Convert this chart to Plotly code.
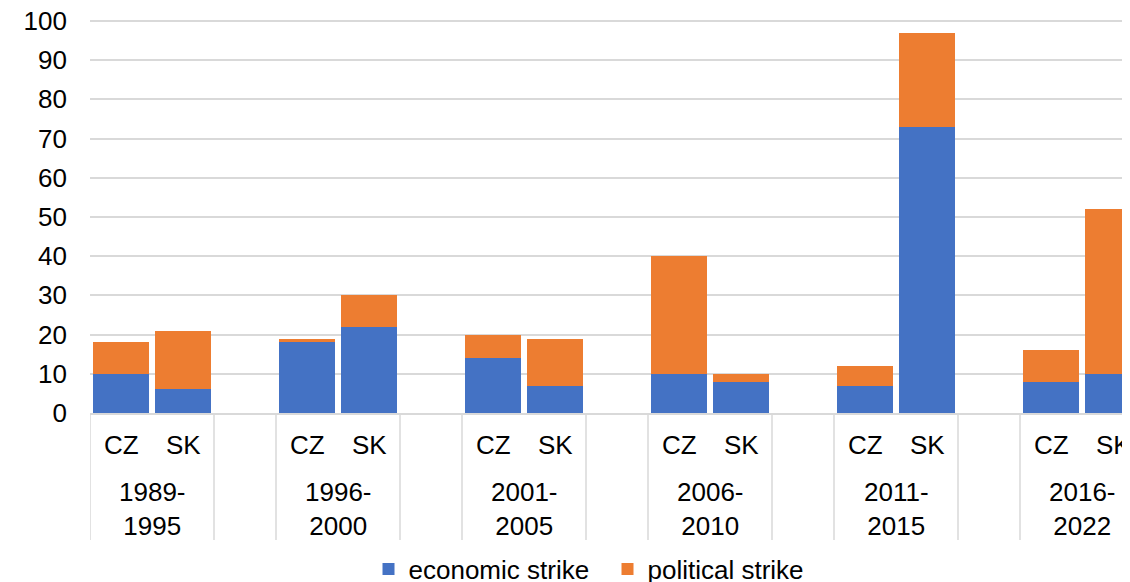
import plotly.graph_objects as go

periods = ["1989-1995", "1996-2000", "2001-2005", "2006-2010", "2011-2015", "2016-2022"]
countries = ["CZ", "SK"]
economic_cz = [10, 18, 14, 10, 7, 8]
political_cz = [8, 1, 6, 30, 5, 8]
economic_sk = [6, 22, 7, 8, 73, 10]
political_sk = [15, 8, 12, 2, 24, 42]

BLUE = "#4472C4"
ORANGE = "#ED7D31"
GRID = "#D9D9D9"
FONT = "Liberation Sans, Arial, sans-serif"
FS = 26

YMAX = 100.5
PX_PER_UNIT = 3.92
PLOT_H = YMAX * PX_PER_UNIT

# slot layout: each period uses 3 slots (CZ, SK, blank)
x_pos, econ, pol = [], [], []
for g in range(len(periods)):
    for c, (e, p) in enumerate([(economic_cz[g], political_cz[g]), (economic_sk[g], political_sk[g])]):
        x_pos.append(3 * g + c + 0.5)
        econ.append(e)
        pol.append(p)

fig = go.Figure()
fig.add_trace(go.Bar(x=x_pos, y=econ, name="economic strike", marker=dict(color=BLUE, line=dict(width=0)), width=0.9))
fig.add_trace(go.Bar(x=x_pos, y=pol, name="political strike", marker=dict(color=ORANGE, line=dict(width=0)), width=0.9))

annotations = []
shapes = []
for g, per in enumerate(periods):
    for c, name in enumerate(countries):
        annotations.append(dict(x=3 * g + c + 0.5, y=0, xref="x", yref="paper", text=name, showarrow=False,
                                yanchor="middle", yshift=-32, font=dict(family=FONT, size=FS, color="#000")))
    a, b = per.split("-")
    annotations.append(dict(x=3 * g + 1, y=0, xref="x", yref="paper", text=f"{a}-<br>{b}", showarrow=False,
                            yanchor="middle", yshift=-96, font=dict(family=FONT, size=FS, color="#000")))
for k in range(0, 17):
    if k % 3 == 1:
        continue
    shapes.append(dict(type="line", xref="x", yref="paper", x0=k, x1=k, y0=0, y1=-127 / PLOT_H,
                       line=dict(color=GRID, width=1.5), layer="below"))

H = 574
B = 169
fig.update_layout(
    barmode="stack",
    width=1122, height=H,
    margin=dict(l=82, r=0, t=H - B - PLOT_H, b=B, autoexpand=False),
    plot_bgcolor="white", paper_bgcolor="white",
    font=dict(family=FONT, size=FS, color="#000"),
    xaxis=dict(range=[0, 1040 / 62], showticklabels=False, showgrid=False, zeroline=False, automargin=False,
               showline=True, linecolor=GRID, linewidth=1.5, fixedrange=True),
    yaxis=dict(range=[0, YMAX], tickvals=list(range(0, 101, 10)), showgrid=True, gridcolor=GRID, gridwidth=1.5,
               automargin=False, zeroline=False, showline=False, ticklabelstandoff=22,
               ticklabeloverflow="allow",
               tickfont=dict(family=FONT, size=FS, color="#000")),
    legend=dict(orientation="h", x=0.4976, xanchor="center", y=-156 / PLOT_H, yanchor="middle",
                entrywidth=194, entrywidthmode="pixels",
                font=dict(family=FONT, size=FS, color="#000"), traceorder="normal"),
    annotations=annotations,
    shapes=shapes,
    showlegend=True,
)

fig.write_html("out.html")
